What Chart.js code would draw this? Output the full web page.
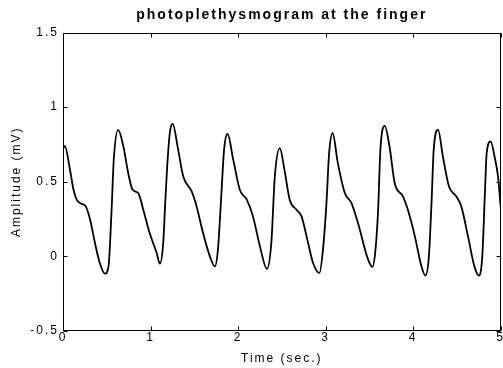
<!DOCTYPE html>
<html>
<head>
<meta charset="utf-8">
<script src="https://cdn.jsdelivr.net/npm/chart.js@4/dist/chart.umd.min.js"></script>
<style>
  html, body { margin: 0; padding: 0; background: #fff; }
  canvas { display: block; }
</style>
</head>
<body>
<canvas id="c" width="503" height="368"></canvas>
<script>
const chartTitle = 'photoplethysmogram at the finger';
const xTitle = 'Time (sec.)';
const yTitle = 'Amplitude (mV)';
const xTicks = [0, 1, 2, 3, 4, 5];
const xTickLabels = ['0', '1', '2', '3', '4', '5'];
const yTicks = [-0.5, 0, 0.5, 1, 1.5];
const yTickLabels = ['-0.5', '0', '0.5', '1', '1.5'];

const time = [0, 0.02, 0.08, 0.12, 0.156, 0.21, 0.26, 0.31, 0.365, 0.42,
  0.48, 0.52, 0.555, 0.58, 0.63, 0.69, 0.745, 0.795, 0.86, 0.917,
  0.99, 1.07, 1.107, 1.145, 1.164, 1.19, 1.221, 1.252, 1.316, 1.374,
  1.47, 1.526, 1.6, 1.678, 1.735, 1.77, 1.81, 1.84, 1.88, 1.945,
  2.02, 2.10, 2.17, 2.25, 2.33, 2.38, 2.42, 2.477, 2.53, 2.59,
  2.668, 2.725, 2.8, 2.857, 2.93, 2.97, 3.01, 3.04, 3.08, 3.14,
  3.22, 3.296, 3.37, 3.486, 3.535, 3.57, 3.6, 3.626, 3.676, 3.73,
  3.79, 3.885, 3.94, 4.02, 4.095, 4.14, 4.18, 4.21, 4.235, 4.285,
  4.34, 4.41, 4.494, 4.55, 4.627, 4.70, 4.75, 4.79, 4.82, 4.84,
  4.886, 4.93, 4.97, 5.0];

const amplitude = [0.72, 0.74, 0.58, 0.446, 0.38, 0.352, 0.335, 0.245, 0.09, -0.044,
  -0.116, -0.067, 0.31, 0.647, 0.848, 0.736, 0.558, 0.446, 0.424, 0.312,
  0.156, 0.023, -0.049, 0.09, 0.31, 0.60, 0.83, 0.888, 0.714, 0.535,
  0.435, 0.335, 0.156, 0, -0.067, 0.045, 0.424, 0.714, 0.82, 0.647,
  0.446, 0.38, 0.268, 0.067, -0.084, 0.09, 0.535, 0.725, 0.58, 0.38,
  0.312, 0.268, 0.09, -0.044, -0.111, 0.045, 0.357, 0.69, 0.825, 0.625,
  0.424, 0.357, 0.223, -0.022, -0.071, 0.045, 0.312, 0.714, 0.874, 0.736,
  0.49, 0.401, 0.312, 0.134, -0.067, -0.129, 0, 0.357, 0.714, 0.848,
  0.669, 0.468, 0.401, 0.335, 0.134, -0.067, -0.129, 0, 0.424, 0.69,
  0.77, 0.669, 0.535, 0.335];

const points = time.map((t, i) => ({ x: t, y: amplitude[i] }));
const FONT = "'Liberation Sans', Arial, Helvetica, sans-serif";

const spacingPlugin = {
  id: 'spacing',
  beforeDraw(chart) { chart.ctx.letterSpacing = '2px'; }
};

const boxPlugin = {
  id: 'box',
  afterDraw(chart) {
    const { ctx, chartArea: a, scales: { x, y } } = chart;
    ctx.save();
    ctx.strokeStyle = '#000';
    ctx.lineWidth = 1;
    const L = Math.round(a.left) + 0.5, R = Math.round(a.right) - 0.5;
    const T = Math.round(a.top) + 0.5, B = Math.round(a.bottom) - 0.5;
    ctx.strokeRect(L, T, R - L, B - T);
    ctx.beginPath();
    const len = 4;
    xTicks.forEach(v => {
      const px = Math.round(x.getPixelForValue(v)) + 0.5;
      ctx.moveTo(px, B); ctx.lineTo(px, B - len);
      ctx.moveTo(px, T); ctx.lineTo(px, T + len);
    });
    yTicks.forEach(v => {
      const py = Math.round(y.getPixelForValue(v)) + 0.5;
      ctx.moveTo(L, py); ctx.lineTo(L + len, py);
      ctx.moveTo(R, py); ctx.lineTo(R - len, py);
    });
    ctx.stroke();
    ctx.restore();
  }
};

new Chart(document.getElementById('c'), {
  type: 'scatter',
  data: {
    datasets: [{
      data: points,
      showLine: true,
      borderColor: '#000',
      borderWidth: 1.8,
      pointRadius: 0,
      cubicInterpolationMode: 'monotone',
      fill: false
    }]
  },
  plugins: [spacingPlugin, boxPlugin],
  options: {
    responsive: false,
    animation: false,
    devicePixelRatio: 1,
    layout: { padding: { left: 0, right: 2, top: 0, bottom: 0 } },
    plugins: {
      legend: { display: false },
      tooltip: { enabled: false },
      title: {
        display: true,
        fullSize: false,
        text: chartTitle,
        color: '#000',
        font: { family: FONT, size: 14, weight: 'bold', lineHeight: 1.2 },
        padding: { top: 6.6, bottom: 9.1 }
      }
    },
    scales: {
      x: {
        type: 'linear',
        position: 'bottom',
        min: 0, max: 5,
        grid: { display: false, drawTicks: false },
        border: { display: false },
        afterBuildTicks: s => { s.ticks = xTicks.map(v => ({ value: v })); },
        afterFit: s => { s.height = 37; },
        ticks: {
          color: '#000',
          padding: -1,
          maxRotation: 0,
          autoSkip: false,
          font: { family: FONT, size: 12 },
          callback: (v) => xTickLabels[xTicks.indexOf(v)]
        },
        title: {
          display: true,
          text: xTitle,
          color: '#000',
          font: { family: FONT, size: 12 },
          padding: { top: 0, bottom: 2 }
        }
      },
      y: {
        type: 'linear',
        position: 'left',
        min: -0.5, max: 1.5,
        grid: { display: false, drawTicks: false },
        border: { display: false },
        afterBuildTicks: s => { s.ticks = yTicks.map(v => ({ value: v })); },
        afterFit: s => { s.width = 63; },
        ticks: {
          color: '#000',
          padding: 4,
          autoSkip: false,
          font: { family: FONT, size: 12 },
          callback: (v) => yTickLabels[yTicks.indexOf(v)]
        },
        title: {
          display: true,
          text: yTitle,
          color: '#000',
          font: { family: FONT, size: 12 },
          padding: { top: 9.5, bottom: 0 }
        }
      }
    }
  }
});
</script>
</body>
</html>
